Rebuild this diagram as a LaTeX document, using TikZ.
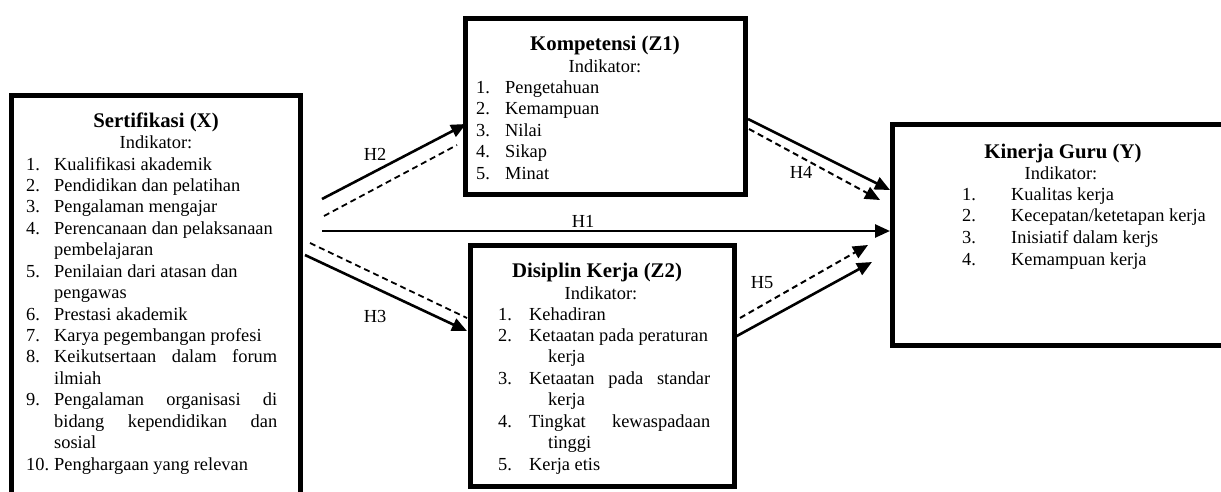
\documentclass[tikz,border=0pt]{standalone}
\usepackage{fontspec}
\setmainfont{Liberation Serif}
\usetikzlibrary{arrows.meta}
\newcommand\bodyfont{\fontsize{18.4}{21.5}\selectfont}
\begin{document}
\begin{tikzpicture}[x=1pt,y=-1pt,
  box/.style={draw,line width=5pt,rectangle,inner sep=0pt},
  txt/.style={inner sep=0pt,anchor=base west,font=\bodyfont},
  ttl/.style={inner sep=0pt,anchor=base,font=\fontsize{20.8}{24}\selectfont\bfseries},
  ctr/.style={inner sep=0pt,anchor=base,font=\bodyfont},
  solidarr/.style={line width=2.6pt,-{Triangle[length=15pt,width=13pt]}},
  dasharr/.style={line width=2pt,dash pattern=on 6pt off 4pt,-{Triangle[length=15pt,width=13pt]}},
  dashln/.style={line width=1.8pt,dash pattern=on 6pt off 4pt},
]
\useasboundingbox (0,0) rectangle (1221,491);

% boxes
\node[box,minimum width=289pt,minimum height=425pt] (X) at (155.5,307.5) {};
\node[box,minimum width=280pt,minimum height=176pt] (Z1) at (605,106) {};
\node[box,minimum width=264pt,minimum height=241pt] (Z2) at (602,365.5) {};
\node[box,minimum width=348pt,minimum height=221pt] (Y) at (1066,234.5) {};

% Sertifikasi
\node[ttl] (xt) at (156,127) {Sertifikasi (X)};
\node[ctr] (xi) at (156,148) {Indikator:};
\node[txt] (x1) at (26,170) {\makebox[28pt][l]{1.}Kualifikasi akademik};
\node[txt] (x2) at (26,191.4) {\makebox[28pt][l]{2.}Pendidikan dan pelatihan};
\node[txt] (x3) at (26,212.9) {\makebox[28pt][l]{3.}Pengalaman mengajar};
\node[txt] (x4) at (26,234.3) {\makebox[28pt][l]{4.}Perencanaan dan pelaksanaan};
\node[txt] (x4b) at (54,255.7) {pembelajaran};
\node[txt] (x5) at (26,277.2) {\makebox[28pt][l]{5.}Penilaian dari atasan dan};
\node[txt] (x5b) at (54,298.6) {pengawas};
\node[txt] (x6) at (26,320) {\makebox[28pt][l]{6.}Prestasi akademik};
\node[txt] (x7) at (26,341.4) {\makebox[28pt][l]{7.}Karya pegembangan profesi};
\node[txt] (x8) at (26,362.9) {\makebox[28pt][l]{8.}\makebox[223pt][s]{Keikutsertaan dalam forum}};
\node[txt] (x8b) at (54,384.3) {ilmiah};
\node[txt] (x9) at (26,405.7) {\makebox[28pt][l]{9.}\makebox[223pt][s]{Pengalaman organisasi di}};
\node[txt] (x9b) at (54,427.2) {\makebox[223pt][s]{bidang kependidikan dan}};
\node[txt] (x9c) at (54,448.6) {sosial};
\node[txt] (x10) at (26,470) {\makebox[28pt][l]{10.}Penghargaan yang relevan};

% Kompetensi
\node[ttl] (kt) at (605,50) {Kompetensi (Z1)};
\node[ctr] (ki) at (605,72) {Indikator:};
\node[txt] (k1) at (476,93) {\makebox[29pt][l]{1.}Pengetahuan};
\node[txt] (k2) at (476,114.5) {\makebox[29pt][l]{2.}Kemampuan};
\node[txt] (k3) at (476,136) {\makebox[29pt][l]{3.}Nilai};
\node[txt] (k4) at (476,157.5) {\makebox[29pt][l]{4.}Sikap};
\node[txt] (k5) at (476,179) {\makebox[29pt][l]{5.}Minat};

% Disiplin
\node[ttl] (dt) at (597,277) {Disiplin Kerja (Z2)};
\node[ctr] (di) at (601,299) {Indikator:};
\node[txt] (d1) at (498,320) {\makebox[31pt][l]{1.}Kehadiran};
\node[txt] (d2) at (498,341.4) {\makebox[31pt][l]{2.}Ketaatan pada peraturan};
\node[txt] (d2b) at (548,362.9) {kerja};
\node[txt] (d3) at (498,384.3) {\makebox[31pt][l]{3.}\makebox[181pt][s]{Ketaatan pada standar}};
\node[txt] (d3b) at (548,405.7) {kerja};
\node[txt] (d4) at (498,427.1) {\makebox[31pt][l]{4.}\makebox[181pt][s]{Tingkat kewaspadaan}};
\node[txt] (d4b) at (548,448.6) {tinggi};
\node[txt] (d5) at (498,470) {\makebox[31pt][l]{5.}Kerja etis};

% Kinerja
\node[ttl] (yt) at (1063,158) {Kinerja Guru (Y)};
\node[ctr] (yi) at (1061,179) {Indikator:};
\node[txt] (y1) at (962,200) {\makebox[49pt][l]{1.}Kualitas kerja};
\node[txt] (y2) at (962,221.7) {\makebox[49pt][l]{2.}Kecepatan/ketetapan kerja};
\node[txt] (y3) at (962,243.3) {\makebox[49pt][l]{3.}Inisiatif dalam kerjs};
\node[txt] (y4) at (962,265) {\makebox[49pt][l]{4.}Kemampuan kerja};

% connector end points
\coordinate (h2a) at (322,199);  \coordinate (h2b) at (466,124);
\coordinate (h2c) at (324,216);  \coordinate (h2d) at (457,145);
\coordinate (h1a) at (322,231);  \coordinate (h1b) at (890,231);
\coordinate (h3a) at (305,255);  \coordinate (h3b) at (467,331);
\coordinate (h3c) at (310,243);  \coordinate (h3d) at (467,318);
\coordinate (h4a) at (748,119);  \coordinate (h4b) at (890,190);
\coordinate (h4c) at (749,129);  \coordinate (h4d) at (880,200);
\coordinate (h5a) at (740,318);  \coordinate (h5b) at (868,245);
\coordinate (h5c) at (735,337);  \coordinate (h5d) at (872,262);

\draw[solidarr] (h2a) -- (h2b);
\draw[dashln] (h2c) -- (h2d);
\draw[solidarr] (h1a) -- (h1b);
\draw[solidarr] (h3a) -- (h3b);
\draw[dashln] (h3c) -- (h3d);
\draw[solidarr] (h4a) -- (h4b);
\draw[dasharr] (h4c) -- (h4d);
\draw[dasharr] (h5a) -- (h5b);
\draw[solidarr] (h5c) -- (h5d);

% labels
\node[ctr] (lh2) at (375,160) {H2};
\node[ctr] (lh1) at (583,227) {H1};
\node[ctr] (lh3) at (375,322) {H3};
\node[ctr] (lh4) at (801,178) {H4};
\node[ctr] (lh5) at (762,288) {H5};
\end{tikzpicture}
\end{document}
